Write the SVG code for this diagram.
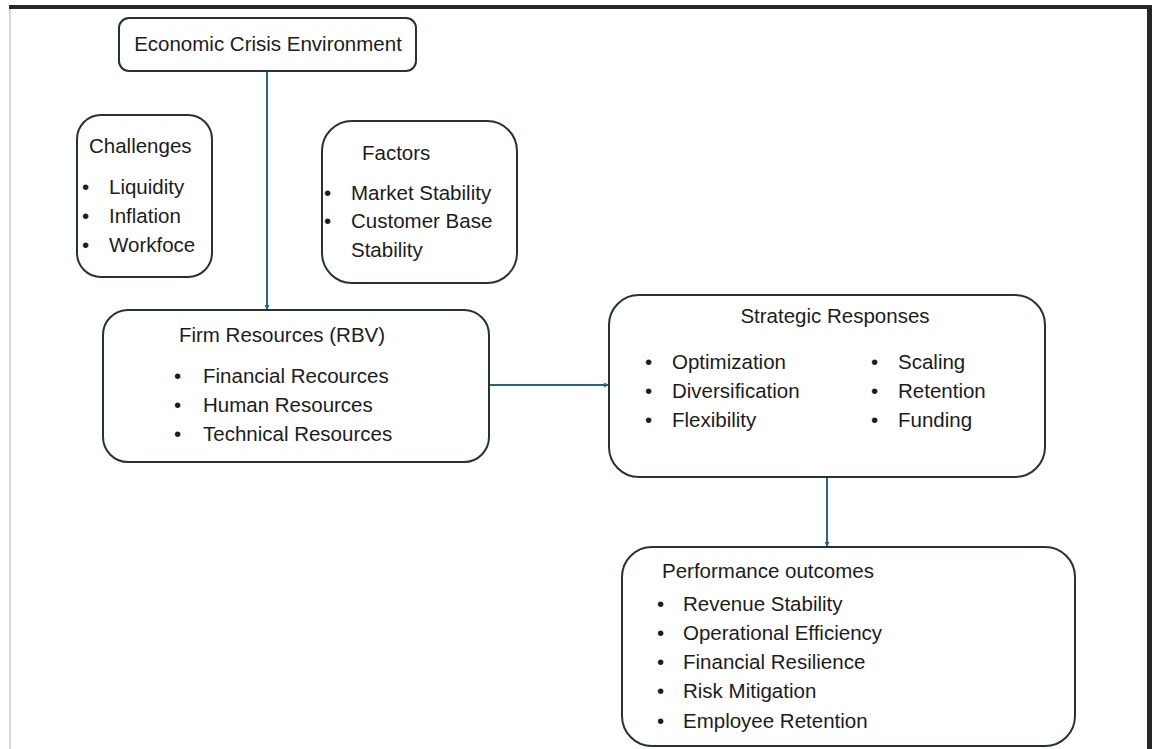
<svg xmlns="http://www.w3.org/2000/svg" width="1152" height="749" viewBox="0 0 1152 749">
<defs>
<marker id="arr" viewBox="0 0 10 10" refX="10" refY="5" markerWidth="5" markerHeight="5" orient="auto" markerUnits="userSpaceOnUse">
<path d="M0,0 L10,5 L0,10 z" fill="#2a6485"/>
</marker>
<style>
.box{fill:#ffffff;stroke:#26313a;stroke-width:2}
.t{font-family:"Liberation Sans",Arial,sans-serif;font-size:20.5px;fill:#1c1c1c}
.conn{stroke:#2a6485;stroke-width:2;fill:none}
</style>
</defs>
<rect x="0" y="0" width="1152" height="749" fill="#ffffff"/>
<g id="frame">
<rect x="9" y="5" width="1143" height="4" fill="#262626"/>
<rect x="9" y="9" width="2" height="740" fill="#d6d6d6"/>
<rect x="1147" y="5" width="5" height="744" fill="#262626"/>
</g>
<g id="connectors">
<line class="conn" x1="267" y1="71" x2="267" y2="310" marker-end="url(#arr)"/>
<line class="conn" x1="489" y1="385" x2="609" y2="385" marker-end="url(#arr)"/>
<line class="conn" x1="827" y1="477" x2="827" y2="547" marker-end="url(#arr)"/>
</g>
<g id="economic-crisis">
<rect class="box" x="119" y="18" width="297" height="53" rx="10"/>
<text class="t" x="268" y="51" text-anchor="middle">Economic Crisis Environment</text>
</g>
<g id="challenges">
<rect class="box" x="77" y="115" width="135" height="162" rx="24"/>
<text class="t" x="89" y="153">Challenges</text>
<text class="t" x="82" y="194">•</text><text class="t" x="109" y="194">Liquidity</text>
<text class="t" x="82" y="223">•</text><text class="t" x="109" y="223">Inflation</text>
<text class="t" x="82" y="252">•</text><text class="t" x="109" y="252">Workfoce</text>
</g>
<g id="factors">
<rect class="box" x="322" y="121" width="195" height="162" rx="30"/>
<text class="t" x="362" y="160">Factors</text>
<text class="t" x="324" y="200">•</text><text class="t" x="351" y="200">Market Stability</text>
<text class="t" x="324" y="228">•</text><text class="t" x="351" y="228">Customer Base</text>
<text class="t" x="351" y="257">Stability</text>
</g>
<g id="firm-resources">
<rect class="box" x="103" y="310" width="386" height="152" rx="25"/>
<text class="t" x="282" y="342" text-anchor="middle">Firm Resources (RBV)</text>
<text class="t" x="174" y="383">•</text><text class="t" x="203" y="383">Financial Recources</text>
<text class="t" x="174" y="412">•</text><text class="t" x="203" y="412">Human Resources</text>
<text class="t" x="174" y="441">•</text><text class="t" x="203" y="441">Technical Resources</text>
</g>
<g id="strategic-responses">
<rect class="box" x="609" y="295" width="436" height="182" rx="30"/>
<text class="t" x="835" y="323" text-anchor="middle">Strategic Responses</text>
<text class="t" x="645" y="369">•</text><text class="t" x="672" y="369">Optimization</text>
<text class="t" x="645" y="398">•</text><text class="t" x="672" y="398">Diversification</text>
<text class="t" x="645" y="427">•</text><text class="t" x="672" y="427">Flexibility</text>
<text class="t" x="871" y="369">•</text><text class="t" x="898" y="369">Scaling</text>
<text class="t" x="871" y="398">•</text><text class="t" x="898" y="398">Retention</text>
<text class="t" x="871" y="427">•</text><text class="t" x="898" y="427">Funding</text>
</g>
<g id="performance-outcomes">
<rect class="box" x="622" y="547" width="453" height="199" rx="30"/>
<text class="t" x="662" y="578">Performance outcomes</text>
<text class="t" x="657" y="611">•</text><text class="t" x="683" y="611">Revenue Stability</text>
<text class="t" x="657" y="640">•</text><text class="t" x="683" y="640">Operational Efficiency</text>
<text class="t" x="657" y="669">•</text><text class="t" x="683" y="669">Financial Resilience</text>
<text class="t" x="657" y="698">•</text><text class="t" x="683" y="698">Risk Mitigation</text>
<text class="t" x="657" y="728">•</text><text class="t" x="683" y="728">Employee Retention</text>
</g>
</svg>
